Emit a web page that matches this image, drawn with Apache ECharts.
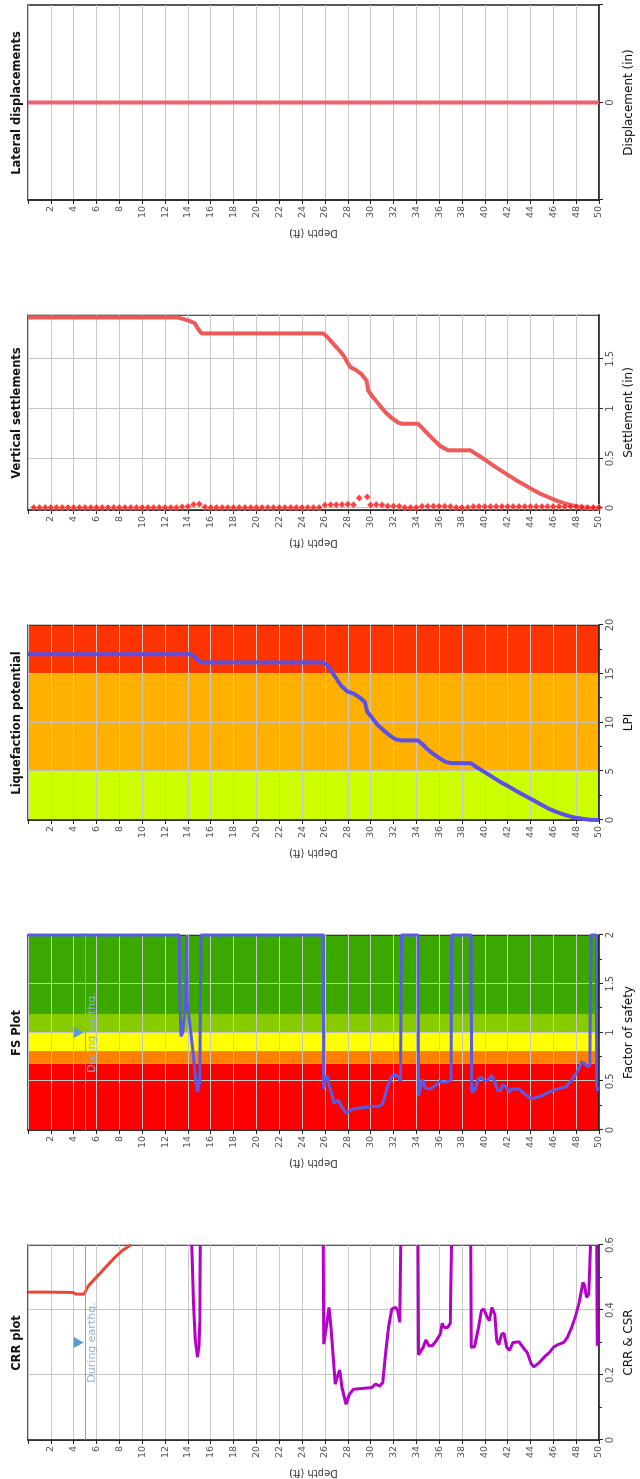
<!DOCTYPE html>
<html>
<head>
<meta charset="utf-8">
<script src="https://cdn.jsdelivr.net/npm/echarts@6/dist/echarts.min.js"></script>
<style>
html, body { margin: 0; padding: 0; width: 640px; height: 1479px; overflow: hidden; background: #fff; }
/* chart is laid out landscape and turned a quarter turn, like the source picture */
#main { position: absolute; left: 0; top: 0; width: 1479px; height: 640px;
  transform-origin: 0 0; transform: translateY(1479px) rotate(-90deg); }
</style>
</head>
<body>
<div id="main"></div>
<script>
// panel texts
var titles = ["CRR plot", "FS Plot", "Liquefaction potential", "Vertical settlements", "Lateral displacements"];
var valueNames = ["CRR & CSR", "Factor of safety", "LPI", "Settlement (in)", "Displacement (in)"];

// all series are [depth (ft), value]; null = break in the line
var csrLine = [[0, 0.455], [2, 0.455], [3.9, 0.454], [4.2, 0.449], [4.9, 0.449], [5.3, 0.475],
  [5.9, 0.498], [6.5, 0.52], [7.1, 0.543], [7.7, 0.565], [8.3, 0.584], [9.0, 0.6]];

var crrLine = [
  [14.33, 0.6], [14.5, 0.42], [14.65, 0.31], [14.85, 0.255], [14.98, 0.29], [15.05, 0.36], [15.08, 0.6], [15.2, null],
  [25.85, 0.6], [25.9, 0.295], [26.2, 0.367], [26.36, 0.408], [26.54, 0.346], [26.7, 0.264], [26.9, 0.172],
  [27.07, 0.192], [27.3, 0.215], [27.5, 0.161], [27.85, 0.11], [28.13, 0.14], [28.49, 0.156], [29.37, 0.159],
  [30.08, 0.161], [30.43, 0.172], [30.8, 0.166], [31.07, 0.177], [31.3, 0.264], [31.56, 0.346], [31.85, 0.403],
  [32.2, 0.408], [32.38, 0.398], [32.55, 0.362], [32.63, 0.6], [33, null],
  [34.15, 0.6], [34.2, 0.262], [34.3, 0.264], [34.6, 0.285], [34.85, 0.308], [35.1, 0.29], [35.4, 0.29],
  [35.74, 0.305], [36.1, 0.326], [36.27, 0.359], [36.45, 0.346], [36.73, 0.346], [36.98, 0.359], [37.08, 0.6], [37.5, null],
  [38.78, 0.6], [38.82, 0.285], [39.1, 0.287], [39.45, 0.346], [39.7, 0.398], [39.9, 0.403], [40.16, 0.382],
  [40.4, 0.367], [40.62, 0.408], [40.87, 0.387], [41.05, 0.305], [41.22, 0.293], [41.47, 0.326], [41.68, 0.328],
  [41.93, 0.285], [42.18, 0.276], [42.46, 0.3], [43.0, 0.302], [43.45, 0.28], [43.7, 0.27], [44.06, 0.235],
  [44.3, 0.225], [44.76, 0.238], [45.3, 0.259], [45.65, 0.269], [46.0, 0.285], [46.36, 0.293], [46.9, 0.3],
  [47.24, 0.316], [47.6, 0.346], [47.95, 0.382], [48.3, 0.429], [48.6, 0.485], [48.76, 0.472], [48.9, 0.439],
  [49.1, 0.449], [49.26, 0.6], [49.5, null],
  [49.8, 0.6], [49.85, 0.29]
];

var fsLine = [[0, 2], [13.25, 2], [13.3, 1.3], [13.4, 0.96], [13.55, 1.0], [13.8, 1.3], [13.9, 2], [13.95, 1.3],
  [14.2, 1.05], [14.45, 0.8], [14.65, 0.55], [14.85, 0.39], [14.95, 0.38], [15.05, 0.5], [15.15, 2],
  [25.85, 2], [25.9, 0.42], [26.0, 0.5], [26.2, 0.56], [26.35, 0.47], [26.6, 0.37], [26.8, 0.27], [27.0, 0.3],
  [27.2, 0.3], [27.45, 0.24], [27.9, 0.17], [28.2, 0.2], [28.6, 0.22], [29.4, 0.23], [30.1, 0.24], [30.8, 0.245],
  [31.05, 0.27], [31.3, 0.37], [31.55, 0.47], [31.85, 0.55], [32.2, 0.565], [32.5, 0.54], [32.62, 0.5], [32.7, 2],
  [34.15, 2], [34.2, 0.35], [34.35, 0.42], [34.55, 0.52], [34.8, 0.43], [35.2, 0.42], [35.6, 0.45], [36.1, 0.5],
  [36.4, 0.49], [36.8, 0.5], [37.05, 0.51], [37.1, 2],
  [38.8, 2], [38.85, 0.39], [39.1, 0.4], [39.45, 0.53], [39.7, 0.54], [40.0, 0.5], [40.35, 0.52], [40.6, 0.56],
  [40.85, 0.5], [41.1, 0.41], [41.35, 0.4], [41.58, 0.46], [41.85, 0.45], [42.1, 0.39], [42.4, 0.42], [43.0, 0.42],
  [43.5, 0.37], [44.05, 0.32], [44.4, 0.33], [44.95, 0.35], [45.65, 0.39], [46.35, 0.42], [47.05, 0.44],
  [47.6, 0.51], [48.1, 0.6], [48.5, 0.7], [48.75, 0.68], [49.0, 0.65], [49.2, 0.66], [49.3, 2], [49.75, 2],
  [49.8, 0.45], [49.9, 0.4]];

var lpiLine = [[0, 17.0], [14.3, 17.0], [14.7, 16.57], [15.2, 16.16], [25.83, 16.16], [26.2, 15.9], [26.5, 15.4],
  [26.9, 14.7], [27.4, 13.8], [27.95, 13.2], [28.5, 12.97], [29.0, 12.6], [29.5, 12.1], [29.7, 11.08],
  [30.08, 10.57], [30.6, 9.78], [31.14, 9.19], [31.67, 8.68], [32.2, 8.27], [32.73, 8.16], [34.15, 8.16],
  [34.5, 7.82], [35.0, 7.24], [35.56, 6.72], [36.1, 6.28], [36.6, 5.93], [37.15, 5.83], [38.75, 5.83],
  [39.28, 5.42], [40.0, 4.91], [40.7, 4.39], [41.4, 3.88], [42.1, 3.43], [42.8, 2.95], [43.5, 2.5], [44.2, 2.06],
  [44.94, 1.58], [45.65, 1.13], [46.36, 0.79], [47.06, 0.51], [47.77, 0.27], [48.48, 0.14], [49.2, 0.02], [50, 0]];

var settleLine = [[0, 1.915], [13.1, 1.915], [13.6, 1.9], [14.15, 1.88], [14.6, 1.857], [14.86, 1.806],
  [15.2, 1.755], [25.83, 1.755], [26.2, 1.72], [26.7, 1.653], [27.25, 1.585], [27.67, 1.527], [27.95, 1.466],
  [28.24, 1.415], [28.66, 1.39], [29.2, 1.347], [29.65, 1.279], [29.8, 1.177], [30.25, 1.109], [30.8, 1.03],
  [31.3, 0.963], [31.85, 0.905], [32.4, 0.86], [32.73, 0.847], [34.15, 0.847], [34.68, 0.786], [35.4, 0.7],
  [36.1, 0.622], [36.8, 0.58], [37.15, 0.58], [38.75, 0.58], [39.28, 0.54], [40.0, 0.486], [40.7, 0.43],
  [41.4, 0.378], [42.1, 0.327], [42.8, 0.276], [43.5, 0.231], [44.2, 0.184], [44.94, 0.139], [45.65, 0.105],
  [46.36, 0.071], [47.06, 0.044], [47.77, 0.024], [48.48, 0.006], [49.2, 0.002], [50, 0.002]];

var settleDots = [[0.5, 0.005], [1, 0.005], [1.5, 0.005], [2, 0.005], [2.5, 0.005], [3, 0.005], [3.5, 0.005],
  [4, 0.005], [4.5, 0.005], [5, 0.005], [5.5, 0.005], [6, 0.005], [6.5, 0.005], [7, 0.005], [7.5, 0.005],
  [8, 0.005], [8.5, 0.005], [9, 0.005], [9.5, 0.005], [10, 0.005], [10.5, 0.005], [11, 0.005], [11.5, 0.005],
  [12, 0.005], [12.5, 0.005], [13, 0.005], [13.5, 0.012], [14, 0.015], [14.5, 0.035], [15, 0.04], [15.5, 0.01],
  [16, 0.005], [16.5, 0.005], [17, 0.005], [17.5, 0.005], [18, 0.005], [18.5, 0.005], [19, 0.005], [19.5, 0.005],
  [20, 0.005], [20.5, 0.005], [21, 0.005], [21.5, 0.005], [22, 0.005], [22.5, 0.005], [23, 0.005], [23.5, 0.005],
  [24, 0.005], [24.5, 0.005], [25, 0.005], [25.5, 0.005], [26, 0.03], [26.5, 0.033], [27, 0.033], [27.5, 0.034],
  [28, 0.038], [28.5, 0.033], [29, 0.1], [29.7, 0.112], [30, 0.03], [30.5, 0.034], [31, 0.03], [31.5, 0.02],
  [32, 0.02], [32.5, 0.018], [33, 0.005], [33.5, 0.005], [34, 0.005], [34.5, 0.018], [35, 0.018], [35.5, 0.018],
  [36, 0.018], [36.5, 0.018], [37, 0.015], [37.5, 0.005], [38, 0.005], [38.5, 0.005], [39, 0.015], [39.5, 0.015],
  [40, 0.015], [40.5, 0.015], [41, 0.015], [41.5, 0.015], [42, 0.015], [42.5, 0.015], [43, 0.015], [43.5, 0.015],
  [44, 0.015], [44.5, 0.015], [45, 0.015], [45.5, 0.015], [46, 0.015], [46.5, 0.015], [47, 0.015], [47.5, 0.015],
  [48, 0.015], [48.5, 0.01], [49, 0.005], [49.5, 0.005], [50, 0.005]];

var lateralLine = [[0, 0], [10, 0], [20, 0], [30, 0], [40, 0], [50, 0]];

// colour band limits
var fsBandEdges = [0, 0.68, 0.81, 1.0, 1.19, 2];
var lpiBandEdges = [0, 5, 15, 20];
var quakeDepth = 5;      // water table during earthquake (ft)
var quakeMark = [0.3, 1.0]; // where the marker sits on the CRR / FS axes

var fsBandColors = ["#ff0000", "#ff8000", "#ffff00", "#88cc00", "#3ba800"];
var lpiBandColors = ["#ccff00", "#ffb000", "#ff3300"];

var font = "DejaVu Sans";

function toXY(arr) {
  return arr.map(function (p) { return [p[1] === null ? "-" : p[1], p[0]]; });
}
function bands(edges, colors) {
  var out = [];
  for (var i = 0; i < edges.length - 1; i++) {
    out.push([{ xAxis: edges[i], itemStyle: { color: colors[i], opacity: 1 } }, { xAxis: edges[i + 1] }]);
  }
  return out;
}
function quakeMarks(v) {
  return {
    markLine: {
      silent: true, symbol: "none", animation: false,
      lineStyle: { color: "#7aa6d6", width: 1, type: "solid" },
      label: { show: false },
      data: [{ yAxis: quakeDepth }]
    },
    markPoint: {
      silent: true, animation: false,
      data: [
        { coord: [v, quakeDepth - 0.55], symbol: "triangle", symbolSize: [11, 10], symbolRotate: 180,
          itemStyle: { color: "#5b9bd5" }, label: { show: false } },
        { coord: [v, quakeDepth], symbol: "circle", symbolSize: 0,
          label: { show: true, formatter: "During earthq.", position: "bottom", distance: 2,
            color: "#8fb0d2", fontSize: 11, fontFamily: font } }
      ]
    }
  };
}

var grids = [], xAxes = [], yAxes = [], titleOpts = [];
var valueRanges = [
  { min: 0, max: 0.6, interval: 0.2, minor: true },
  { min: 0, max: 2, interval: 0.5, minor: true },
  { min: 0, max: 20, interval: 5, minor: true },
  { min: -0.02, max: 1.94, splitNumber: 4, settle: true },
  { min: -1, max: 1, interval: 1, lateral: true }
];
for (var i = 0; i < 5; i++) {
  var left = 39 + i * 310;
  grids.push({ left: left, width: 195, top: 28, height: 578, show: true, z: 1.5,
    borderColor: "#222", borderWidth: 1.5, backgroundColor: "transparent" });
  titleOpts.push({ text: titles[i], left: left + 97, top: 11, textAlign: "center", padding: 0,
    textStyle: { fontFamily: font, fontSize: 11.5, fontWeight: "bold", color: "#111" } });
  var r = valueRanges[i];
  var xa = {
    type: "value", gridIndex: i, min: r.min, max: r.max, z: 1.5,
    name: valueNames[i], nameLocation: "middle", nameGap: 24,
    nameTextStyle: { fontFamily: font, fontSize: 12, color: "#111" },
    axisLine: { show: true, onZero: false, lineStyle: { color: "#222", width: 1.5 } },
    axisTick: { show: true, length: 4, lineStyle: { color: "#222" } },
    axisLabel: { fontFamily: font, fontSize: 10, color: "#555", margin: 6 },
    splitLine: { show: true, lineStyle: { color: "#c4c4c4", width: 1 } }
  };
  if (r.interval) xa.interval = r.interval;
  if (r.splitNumber) xa.splitNumber = r.splitNumber;
  if (r.minor) xa.minorTick = { show: true, splitNumber: 2, length: 3, lineStyle: { color: "#222" } };
  if (r.settle) { xa.axisLabel.showMinLabel = false; xa.axisLabel.showMaxLabel = false; }
  if (r.lateral) {
    xa.axisLabel.formatter = function (v) { return v === 0 ? "0" : ""; };
    xa.splitLine.show = false;
  }
  xAxes.push(xa);
  yAxes.push({
    type: "value", gridIndex: i, inverse: true, min: 0, max: 50, interval: 2, z: 1.5,
    name: "Depth (ft)", nameLocation: "middle", nameGap: 28,
    nameTextStyle: { fontFamily: font, fontSize: 10, color: "#333" },
    axisLine: { show: true, onZero: false, lineStyle: { color: "#222", width: 1.5 } },
    axisTick: { show: true, length: 4, lineStyle: { color: "#222" } },
    axisLabel: { fontFamily: font, fontSize: 9.5, color: "#555", margin: 6,
      formatter: function (v) { return v === 0 ? "" : String(v); } },
    splitLine: { show: true, lineStyle: { color: "#c8c8c8", width: 1 } }
  });
}

var lineBase = { type: "line", showSymbol: false, symbol: "none", animation: false, silent: true };
function line(idx, data, color, width, extra) {
  return Object.assign({}, lineBase, {
    xAxisIndex: idx, yAxisIndex: idx, data: toXY(data),
    lineStyle: { color: color, width: width }, itemStyle: { color: color }
  }, extra || {});
}

var series = [
  line(0, csrLine, "#ee4433", 3),
  line(0, crrLine, "#b400c8", 3, quakeMarks(quakeMark[0])),
  Object.assign({}, lineBase, { xAxisIndex: 1, yAxisIndex: 1, data: [],
    markArea: { silent: true, animation: false, data: bands(fsBandEdges, fsBandColors) } }),
  line(1, fsLine, "#5a5ae8", 3, quakeMarks(quakeMark[1])),
  Object.assign({}, lineBase, { xAxisIndex: 2, yAxisIndex: 2, data: [],
    markArea: { silent: true, animation: false, data: bands(lpiBandEdges, lpiBandColors) } }),
  line(2, lpiLine, "#5a50e6", 4),
  line(3, settleLine, "#ee5a5a", 4),
  { type: "scatter", xAxisIndex: 3, yAxisIndex: 3, data: toXY(settleDots), symbol: "diamond",
    symbolSize: 7, animation: false, silent: true, z: 3,
    itemStyle: { color: "#ff1010", borderColor: "#ffdddd", borderWidth: 0.6 } },
  line(4, lateralLine, "#f06070", 4)
];

var chart = echarts.init(document.getElementById("main"), null, { renderer: "canvas" });
chart.setOption({
  backgroundColor: "#fff",
  animation: false,
  title: titleOpts,
  grid: grids,
  xAxis: xAxes,
  yAxis: yAxes,
  series: series
});
</script>
</body>
</html>
